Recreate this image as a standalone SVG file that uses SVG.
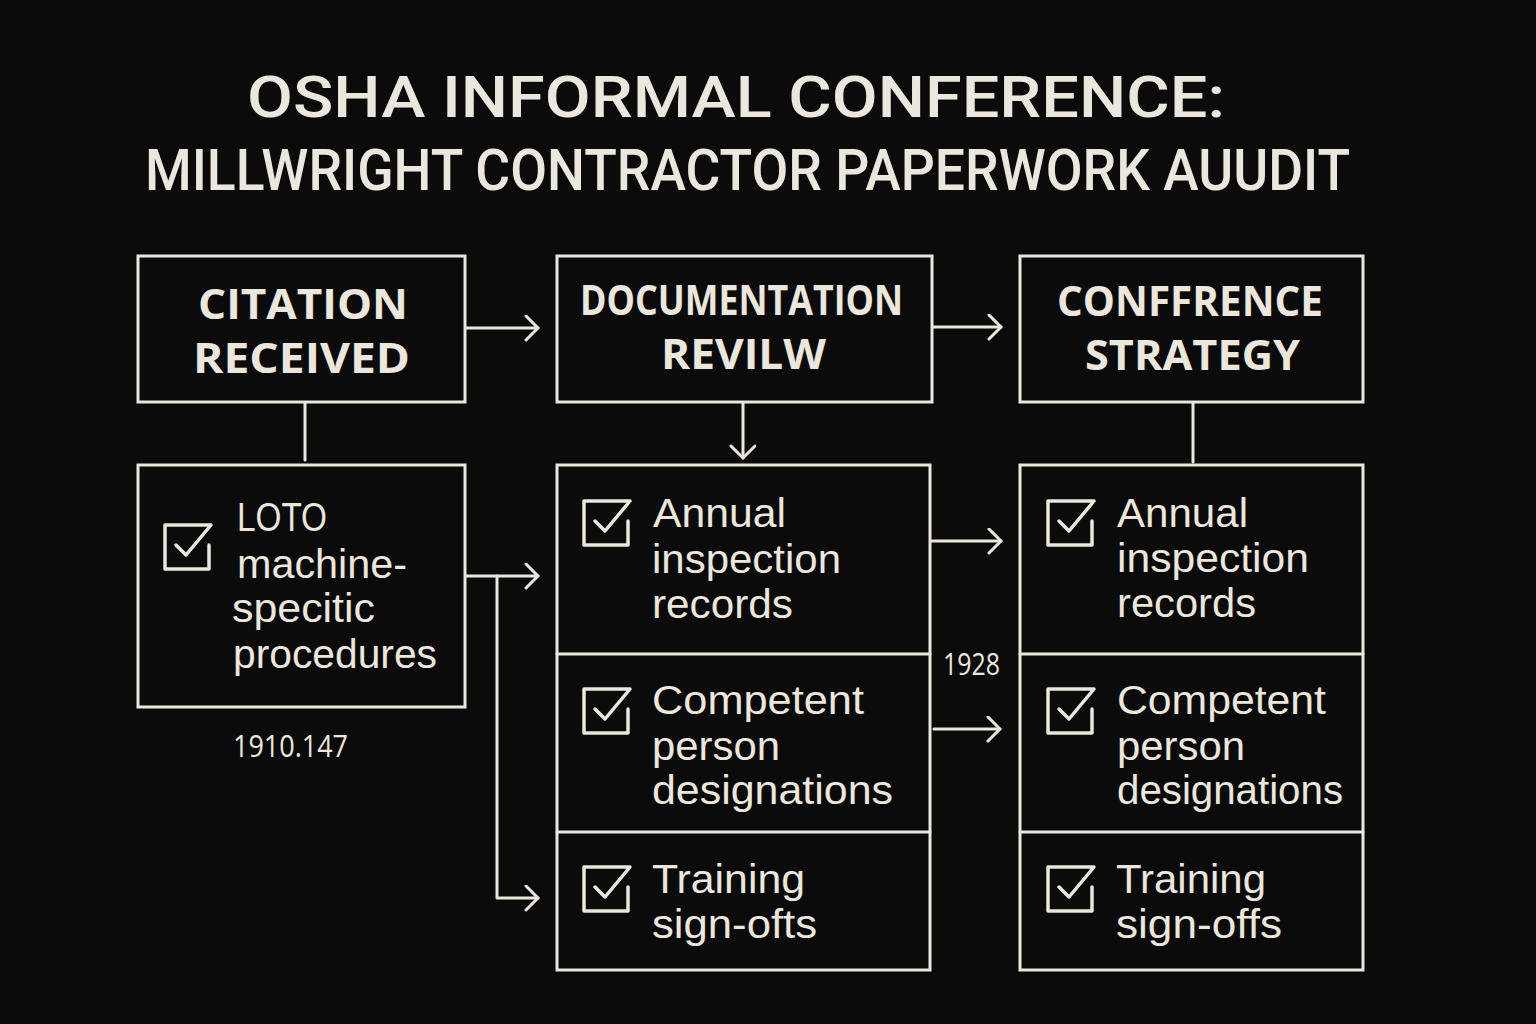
<svg xmlns="http://www.w3.org/2000/svg" width="1536" height="1024" viewBox="0 0 1536 1024">
<defs>
<style>
.bg{fill:#0b0b0b}
.box{fill:#0b0b0b;stroke:#ece7dc;stroke-width:3}
.ln{fill:none;stroke:#ece7dc;stroke-width:3;stroke-linecap:round;stroke-linejoin:round}
.title{font-family:Roboto,"Liberation Sans",sans-serif;font-weight:500;font-size:57px;fill:#ece7dc}
.hd{font-family:"Open Sans","DejaVu Sans",sans-serif;font-weight:700;font-size:42px;fill:#ece7dc;text-anchor:start}
.tx{font-family:"Liberation Sans",Arial,sans-serif;font-size:40px;fill:#ece7dc}
.sm{font-family:"Open Sans","DejaVu Sans",sans-serif;font-weight:500;font-size:31px;fill:#ece7dc}
.cb{fill:none;stroke:#ece7dc;stroke-width:3.5;stroke-linecap:round;stroke-linejoin:round}
</style>
<marker id="arr" markerUnits="userSpaceOnUse" markerWidth="16" markerHeight="28" refX="14" refY="13" orient="auto">
<path d="M2 1 L14 13 L2 25" fill="none" stroke="#ece7dc" stroke-width="3" stroke-linecap="round" stroke-linejoin="round"/>
</marker>
<path id="chk" d="M44 20 V44 H0 V0 H46 M11 20 L21 30 L46 0"/>
</defs>
<rect class="bg" x="0" y="0" width="1536" height="1024"/>

<g id="title">
<text class="title" x="247" y="117" textLength="978" lengthAdjust="spacingAndGlyphs">OSHA INFORMAL CONFERENCE:</text>
<text class="title" x="145" y="190" textLength="1205" lengthAdjust="spacingAndGlyphs">MILLWRIGHT CONTRACTOR PAPERWORK AUUDIT</text>
</g>

<g id="connectors">
<line class="ln" x1="466" y1="328" x2="538" y2="328" marker-end="url(#arr)"/>
<line class="ln" x1="933" y1="327" x2="1001" y2="327" marker-end="url(#arr)"/>
<line class="ln" x1="305" y1="402" x2="305" y2="460"/>
<line class="ln" x1="743" y1="402" x2="743" y2="458" marker-end="url(#arr)"/>
<line class="ln" x1="1193" y1="402" x2="1193" y2="462"/>
<line class="ln" x1="466" y1="576" x2="538" y2="576" marker-end="url(#arr)"/>
<path class="ln" d="M497 576 V898 H538" marker-end="url(#arr)"/>
<line class="ln" x1="932" y1="541" x2="1001" y2="541" marker-end="url(#arr)"/>
<line class="ln" x1="934" y1="729" x2="1000" y2="729" marker-end="url(#arr)"/>
<text class="sm" x="943" y="675" font-size="26" textLength="57" lengthAdjust="spacingAndGlyphs">1928</text>
</g>

<g id="citation-received">
<rect class="box" x="138" y="256" width="327" height="146"/>
<text class="hd" x="198" y="319" textLength="210" lengthAdjust="spacingAndGlyphs">CITATION</text>
<text class="hd" x="193" y="373" textLength="217" lengthAdjust="spacingAndGlyphs">RECEIVED</text>
</g>

<g id="documentation-review">
<rect class="box" x="557" y="256" width="375" height="146"/>
<text class="hd" x="580" y="315" font-size="40" textLength="323" lengthAdjust="spacingAndGlyphs">DOCUMENTATION</text>
<text class="hd" x="661" y="369" font-size="40" textLength="165" lengthAdjust="spacingAndGlyphs">REVILW</text>
</g>

<g id="conference-strategy">
<rect class="box" x="1020" y="256" width="343" height="146"/>
<text class="hd" x="1057" y="316" font-size="40" textLength="266" lengthAdjust="spacingAndGlyphs">CONFFRENCE</text>
<text class="hd" x="1085" y="370" font-size="40" textLength="215" lengthAdjust="spacingAndGlyphs">STRATEGY</text>
</g>

<g id="loto">
<rect class="box" x="138" y="465" width="327" height="242"/>
<use href="#chk" class="cb" x="165" y="525"/>
<text class="tx" x="237" y="531" font-size="37" textLength="90" lengthAdjust="spacingAndGlyphs">LOTO</text>
<text class="tx" x="237" y="578" font-size="37" textLength="170" lengthAdjust="spacingAndGlyphs">machine-</text>
<text class="tx" x="232" y="622" font-size="37" textLength="143" lengthAdjust="spacingAndGlyphs">specitic</text>
<text class="tx" x="233" y="668" font-size="37" textLength="204" lengthAdjust="spacingAndGlyphs">procedures</text>
<text class="sm" x="233" y="757" textLength="115" lengthAdjust="spacingAndGlyphs">1910.147</text>
</g>

<g id="documentation-items">
<rect class="box" x="557" y="465" width="373" height="505"/>
<line class="ln" x1="557" y1="654" x2="930" y2="654"/>
<line class="ln" x1="557" y1="832" x2="930" y2="832"/>
<use href="#chk" class="cb" x="584" y="501"/>
<text class="tx" x="653" y="527" textLength="133" lengthAdjust="spacingAndGlyphs">Annual</text>
<text class="tx" x="652" y="573" textLength="189" lengthAdjust="spacingAndGlyphs">inspection</text>
<text class="tx" x="652" y="618" textLength="141" lengthAdjust="spacingAndGlyphs">records</text>
<use href="#chk" class="cb" x="584" y="689"/>
<text class="tx" x="652" y="714" textLength="212" lengthAdjust="spacingAndGlyphs">Competent</text>
<text class="tx" x="652" y="760" textLength="128" lengthAdjust="spacingAndGlyphs">person</text>
<text class="tx" x="652" y="804" textLength="241" lengthAdjust="spacingAndGlyphs">designations</text>
<use href="#chk" class="cb" x="584" y="867"/>
<text class="tx" x="652" y="893" textLength="153" lengthAdjust="spacingAndGlyphs">Training</text>
<text class="tx" x="652" y="938" textLength="165" lengthAdjust="spacingAndGlyphs">sign-ofts</text>
</g>

<g id="strategy-items">
<rect class="box" x="1020" y="465" width="343" height="505"/>
<line class="ln" x1="1020" y1="654" x2="1363" y2="654"/>
<line class="ln" x1="1020" y1="832" x2="1363" y2="832"/>
<use href="#chk" class="cb" x="1048" y="501"/>
<text class="tx" x="1117" y="527" textLength="131" lengthAdjust="spacingAndGlyphs">Annual</text>
<text class="tx" x="1117" y="572" textLength="192" lengthAdjust="spacingAndGlyphs">inspection</text>
<text class="tx" x="1117" y="617" textLength="139" lengthAdjust="spacingAndGlyphs">records</text>
<use href="#chk" class="cb" x="1048" y="689"/>
<text class="tx" x="1117" y="714" textLength="209" lengthAdjust="spacingAndGlyphs">Competent</text>
<text class="tx" x="1117" y="760" textLength="128" lengthAdjust="spacingAndGlyphs">person</text>
<text class="tx" x="1117" y="804" textLength="226" lengthAdjust="spacingAndGlyphs">designations</text>
<use href="#chk" class="cb" x="1048" y="867"/>
<text class="tx" x="1116" y="893" textLength="150" lengthAdjust="spacingAndGlyphs">Training</text>
<text class="tx" x="1116" y="938" textLength="166" lengthAdjust="spacingAndGlyphs">sign-offs</text>
</g>
</svg>
